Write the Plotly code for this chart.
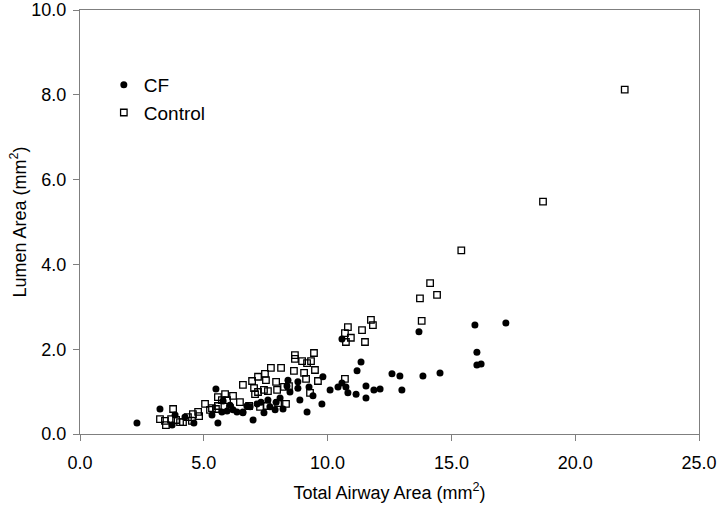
import plotly.graph_objects as go

# Control group (open squares)
control_x = [22.0, 18.7, 15.4, 14.14, 14.42, 13.73, 13.8, 10.82, 10.7, 10.94, 10.74, 11.39, 11.75, 11.83,
             11.51, 10.7, 8.68, 8.68, 8.97, 9.17, 9.33, 9.45, 9.49, 8.64, 9.05, 9.13, 9.61, 7.71, 8.12,
             7.47, 7.19, 7.51, 6.95, 6.58, 7.03, 7.92, 7.07, 7.19, 7.43, 7.59, 7.96, 8.24, 8.44, 9.29,
             6.46, 6.83, 7.27, 7.55, 8.0, 8.32, 3.76, 3.23, 3.43, 3.47, 3.68, 3.88, 4.16, 4.36, 4.56,
             4.81, 4.77, 5.05, 5.25, 5.49, 5.57, 5.86, 6.18, 5.94, 5.73, 6.06, 5.57, 5.33, 4.52, 4.04]
control_y = [8.12, 5.48, 4.33, 3.56, 3.28, 3.2, 2.67, 2.52, 2.38, 2.27, 2.17, 2.45, 2.69, 2.57,
             2.17, 1.3, 1.86, 1.77, 1.72, 1.67, 1.72, 1.91, 1.51, 1.49, 1.44, 1.3, 1.25, 1.56, 1.56,
             1.42, 1.35, 1.27, 1.25, 1.16, 1.08, 1.23, 0.94, 0.99, 1.04, 1.01, 1.04, 1.11, 1.13, 0.97,
             0.75, 0.66, 0.64, 0.66, 0.73, 0.71, 0.59, 0.35, 0.31, 0.21, 0.35, 0.33, 0.28, 0.4, 0.47,
             0.42, 0.52, 0.71, 0.57, 0.59, 0.87, 0.94, 0.9, 0.8, 0.8, 0.61, 0.66, 0.61, 0.31, 0.28]

# CF group (filled circles)
cf_x = [17.2, 15.95, 16.03, 16.03, 16.2, 14.54, 13.69, 10.58, 11.35, 11.19, 12.6, 12.92, 13.85, 10.1,
        10.42, 10.58, 10.74, 10.82, 11.15, 11.55, 11.55, 11.87, 12.12, 13.0, 9.81, 8.4, 8.8, 9.25,
        8.36, 8.8, 8.88, 9.41, 9.77, 9.17, 8.2, 7.88, 7.92, 8.08, 7.59, 7.31, 7.43, 6.99, 6.58, 6.87,
        7.15, 7.67, 8.48, 2.3, 3.23, 5.49, 3.84, 3.72, 4.24, 4.6, 5.57, 5.33, 5.73, 5.94, 6.18, 6.34,
        6.58, 6.74, 5.78, 6.06]
cf_y = [2.62, 2.57, 1.93, 1.63, 1.65, 1.44, 2.41, 2.24, 1.70, 1.49, 1.42, 1.37, 1.37, 1.04,
        1.11, 1.2, 1.11, 0.97, 0.94, 1.13, 0.85, 1.04, 1.06, 1.04, 1.35, 1.27, 1.23, 1.11,
        1.13, 1.08, 0.8, 0.9, 0.71, 0.52, 0.59, 0.57, 0.75, 0.85, 0.8, 0.75, 0.5, 0.33, 0.5, 0.64,
        0.71, 0.64, 0.99, 0.26, 0.59, 1.06, 0.45, 0.21, 0.4, 0.26, 0.26, 0.45, 0.52, 0.54, 0.57, 0.52,
        0.52, 0.66, 0.78, 0.68]

x_ticks = [0, 5, 10, 15, 20, 25]
y_ticks = [0, 2, 4, 6, 8, 10]

fig = go.Figure()
fig.add_trace(go.Scatter(x=cf_x, y=cf_y, mode="markers", name="CF",
                         marker=dict(symbol="circle", size=7, color="black")))
fig.add_trace(go.Scatter(x=control_x, y=control_y, mode="markers", name="Control",
                         marker=dict(symbol="square-open", size=6.5, color="black",
                                     line=dict(width=1.3, color="black"))))

font_family = "Liberation Sans, Arial, sans-serif"
axis_common = dict(showline=True, linecolor="#7f7f7f", linewidth=1, mirror=True,
                   ticks="outside", ticklen=6, tickcolor="#7f7f7f", showgrid=False,
                   zeroline=False, tickfont=dict(size=18, color="black", family=font_family),
                   tickformat=".1f", automargin=False)

fig.update_layout(
    width=720, height=506,
    margin=dict(l=80, r=21, t=10, b=72),
    plot_bgcolor="white", paper_bgcolor="white",
    font=dict(family=font_family, color="black"),
    xaxis=dict(range=[0, 25], tickvals=x_ticks, ticklabelstandoff=6,
               title=dict(text="Total Airway Area (mm<sup>2</sup>)", font=dict(size=18), standoff=14),
               **axis_common),
    yaxis=dict(range=[0, 10], tickvals=y_ticks, ticklabelstandoff=3,
               title=dict(text="Lumen Area (mm<sup>2</sup>)", font=dict(size=18), standoff=0),
               **axis_common),
    legend=dict(x=0.0385, y=0.868, xanchor="left", yanchor="top", bgcolor="rgba(0,0,0,0)",
                font=dict(size=19, family=font_family), itemsizing="trace"),
    showlegend=True,
)

fig.write_html("out.html",
               config={"displayModeBar": False},
               post_script="document.body.style.margin='0px';document.body.style.overflow='hidden';")
